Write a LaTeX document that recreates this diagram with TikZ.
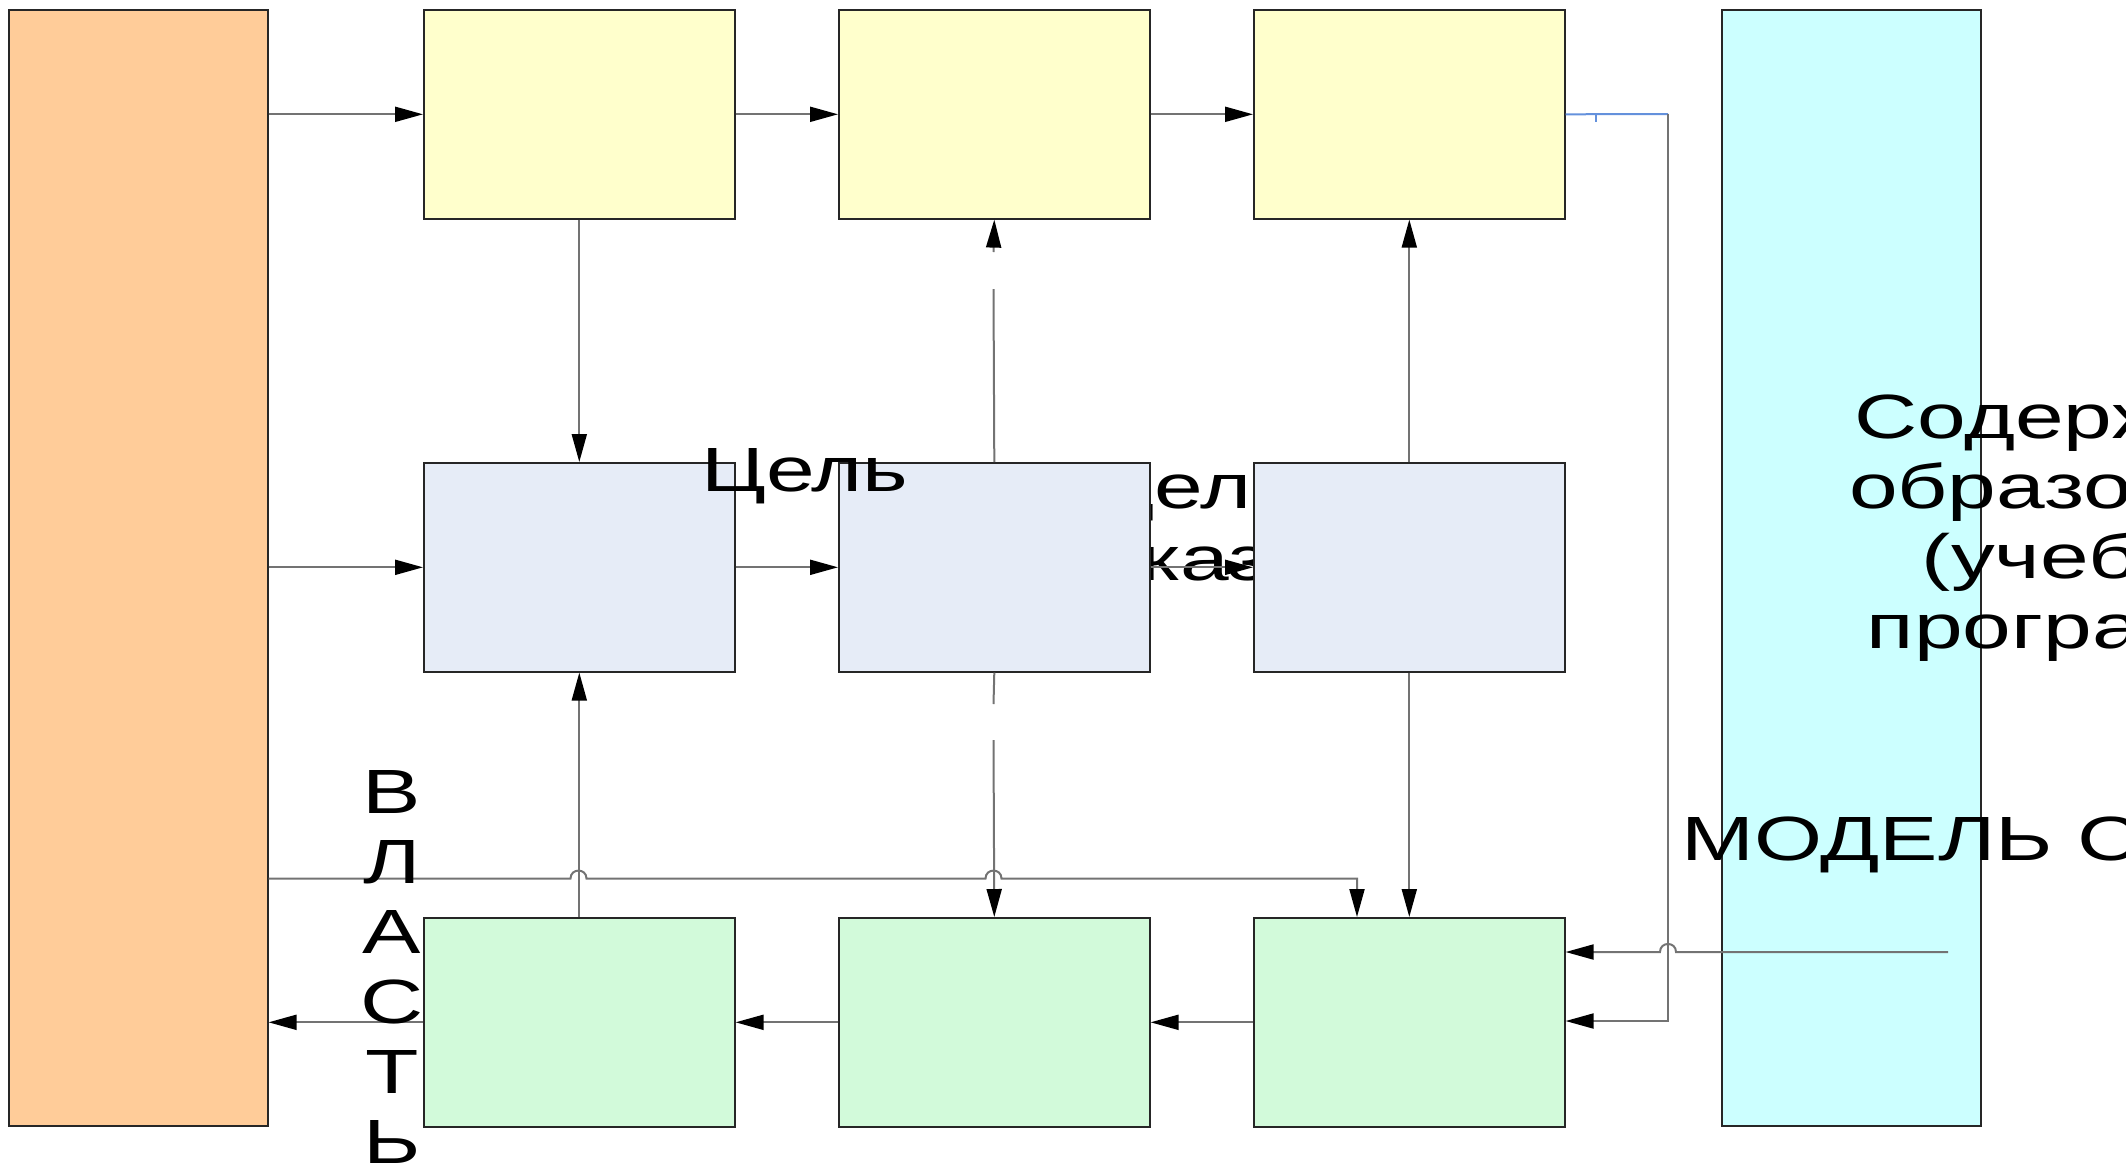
\documentclass[tikz,border=0pt]{standalone}
\usepackage{fontspec}
\newfontfamily\lblfont{Liberation Sans}[FakeStretch=1.4]
\usetikzlibrary{arrows.meta}
\definecolor{corange}{RGB}{255,204,153}
\definecolor{cyellow}{RGB}{255,255,204}
\definecolor{cblue}{RGB}{230,236,247}
\definecolor{cgreen}{RGB}{210,250,218}
\definecolor{ccyan}{RGB}{204,255,255}
\definecolor{clink}{RGB}{100,145,220}
\begin{document}
\begin{tikzpicture}[x=0.5pt,y=-0.5pt,
 box/.style={draw=black!85, line width=0.8pt, inner sep=0, anchor=north west, minimum width=155.5pt, minimum height=104.5pt},
 tall/.style={box, minimum width=129.5pt, minimum height=558pt},
 conn/.style={draw=black!55, line width=1pt},
 arr/.style={conn, -{Triangle[length=14pt,width=7.5pt,black]}},
 lbl/.style={font=\lblfont\fontsize{31.25}{35}\selectfont, inner sep=0}]
\useasboundingbox (0,0) rectangle (2126,1169);
\clip (0,0) rectangle (2126,1169);
% text partly hidden under the middle boxes
\node[lbl, anchor=base west] (h1) at (1103,508) {дель};
\node[lbl, anchor=base west] (h2) at (1140,580) {каз};
% boxes
\node[tall, fill=corange] (src) at (8,9) {};
\node[tall, fill=ccyan] (cy) at (1721,9) {};
\node[box, fill=cyellow] (y1) at (423,9) {};
\node[box, fill=cyellow] (y2) at (838,9) {};
\node[box, fill=cyellow] (y3) at (1253,9) {};
\node[box, fill=cblue] (b1) at (423,462) {};
\node[box, fill=cblue] (b2) at (838,462) {};
\node[box, fill=cblue] (b3) at (1253,462) {};
\node[box, fill=cgreen] (g1) at (423,917) {};
\node[box, fill=cgreen] (g2) at (838,917) {};
\node[box, fill=cgreen] (g3) at (1253,917) {};
% coordinates
\coordinate (gapA) at (993.5,289);
\coordinate (gapB) at (993.5,252);
\coordinate (gapC) at (993.5,704);
\coordinate (gapD) at (993.5,740);
\coordinate (ctrl) at (1357,878.6);
\coordinate (rt) at (1668,114);
\coordinate (rb) at (1668,1021);
\coordinate (tk) at (1596,114);
\coordinate (tkb) at (1596,122);
\coordinate (ce) at (1948,952);
% horizontal flows
\draw[arr] (y1.west -| src.east) -- (y1.west);
\draw[arr] (y1.east) -- (y2.west);
\draw[arr] (y2.east) -- (y3.west);
\draw[arr] (b1.west -| src.east) -- (b1.west);
\draw[arr] (b1.east) -- (b2.west);
\draw[arr] (b2.east) -- (b3.west);
\draw[arr] (g3.west) -- (g2.east);
\draw[arr] (g2.west) -- (g1.east);
\draw[arr] (g1.west) -- (g1.west -| src.east);
% vertical flows
\draw[arr] (y1.south) -- (b1.north);
\draw[arr] (g1.north) -- (b1.south);
\draw[conn] (b2.north) -- (gapA);
\draw[arr] (gapB) -- (y2.south);
\draw[conn] (b2.south) -- (gapC);
\draw[arr] (gapD) -- (g2.north);
\draw[arr] (b3.north) -- (y3.south);
\draw[arr] (b3.south) -- (g3.north);
% long line from the left block
\draw[arr] (src.east |- ctrl) -- (570.5,878.6) .. controls (570.5,867.9) and (586.5,867.9) .. (586.5,878.6)
  -- (985.5,878.6) .. controls (985.5,867.9) and (1001.5,867.9) .. (1001.5,878.6)
  -- (ctrl) -- (ctrl |- g3.north);
% right loop
\draw[conn, draw=clink] (y3.east) -- (rt);
\draw[conn, draw=clink] (tk) -- (tkb);
\draw[arr] (rt) -- (rb) -- (g3.east |- rb);
\draw[arr] (ce) -- (1676,952) .. controls (1676,941.3) and (1660,941.3) .. (1660,952) -- (g3.east |- ce);
% labels
\node[lbl, anchor=base west] (goal) at (701,491) {Цель};
\node[lbl, align=center, anchor=base] (vl) at (392,1163) {В\\Л\\А\\С\\Т\\Ь};
\node[lbl, align=center, anchor=base] (cont) at (2110,648) {Содержание\\образования\\(учебные\\программы)};
\node[lbl, anchor=base west] (mod) at (1681,860) {МОДЕЛЬ С};
\end{tikzpicture}
\end{document}
